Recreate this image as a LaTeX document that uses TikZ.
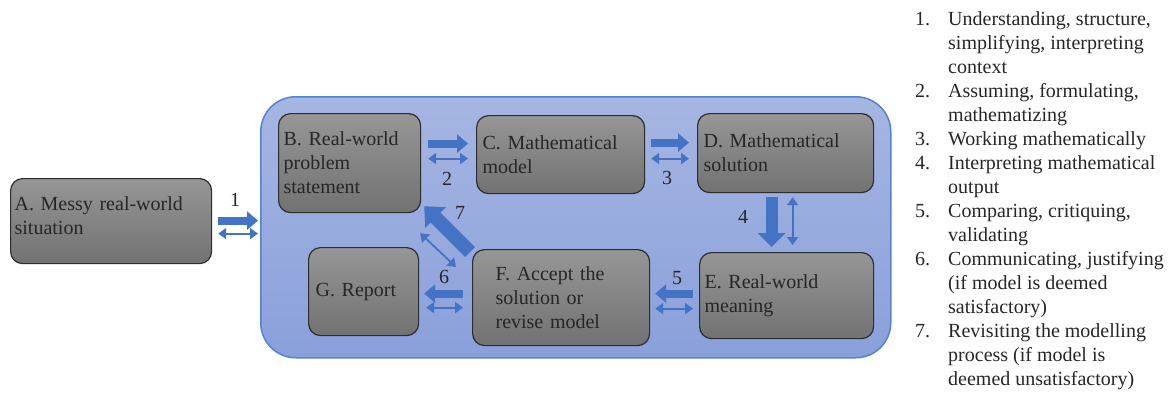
\documentclass[tikz,border=0pt]{standalone}
\usepackage{fontspec}
\setmainfont{Liberation Serif}
\usetikzlibrary{arrows.meta,calc}
\definecolor{arrowblue}{RGB}{68,114,196}
\definecolor{conttop}{RGB}{166,182,226}
\definecolor{contbot}{RGB}{138,160,219}
\definecolor{contline}{RGB}{84,130,214}
\definecolor{boxtop}{RGB}{150,150,150}
\definecolor{boxbot}{RGB}{114,114,114}
\definecolor{boxline}{RGB}{45,45,45}
\begin{document}
\begin{tikzpicture}[x=1pt,y=-1pt,
  txt/.style={font=\fontsize{20}{24}\selectfont},
  stagebox/.style={txt, draw=boxline, line width=1.2pt, rounded corners=12pt,
    top color=boxtop, bottom color=boxbot, align=left, anchor=north west,
    inner ysep=0pt, text=black!85},
  container/.style={draw=contline, line width=1.5pt, rounded corners=35pt,
    top color=conttop, bottom color=contbot, anchor=north west, inner sep=0pt},
  bigarrow/.style={draw=arrowblue, line width=8pt,
    -{Triangle[length=11pt,width=18pt]}},
  thinarrow/.style={draw=arrowblue, line width=1.8pt,
    {Triangle[length=8pt,width=11pt]}-{Triangle[length=8pt,width=11pt]}},
  numlabel/.style={txt, inner sep=0pt, text=black!85}
]
\useasboundingbox (0,0) rectangle (1172,392);

% container
\node[container, minimum width=630pt, minimum height=261pt] (M) at (260,96) {};

% stages
\node[stagebox, minimum width=201pt, minimum height=85pt, inner xsep=4pt, text width=193pt, text depth=36pt] (A) at (10,178) {A. Messy real-world\\situation};
\node[stagebox, minimum width=142pt, minimum height=99pt, inner xsep=5pt, text width=132pt] (B) at (278,113) {B. Real-world\\problem\\statement};
\node[stagebox, minimum width=168pt, minimum height=78pt, inner xsep=6pt, text width=156pt] (C) at (476,115) {C. Mathematical\\model};
\node[stagebox, minimum width=176pt, minimum height=79pt, inner xsep=6pt, text width=164pt] (D) at (697,113) {D. Mathematical\\solution};
\node[stagebox, minimum width=174pt, minimum height=86pt, inner xsep=5pt, text width=164pt] (E) at (699,252) {E. Real-world\\meaning};
\node[stagebox, minimum width=177pt, minimum height=96pt, inner xsep=23pt, text width=131pt] (F) at (472,249) {F. Accept the\\solution or\\revise model};
\node[stagebox, minimum width=110pt, minimum height=88pt, inner xsep=7pt, text width=96pt] (G) at (308,247) {G. Report};

% 1
\draw[bigarrow] ($(A.east)+(6,-0.5)$) -- ($(A.east -| M.west)+(-2,-0.5)$);
\draw[thinarrow] ($(A.east)+(6,12.5)$) -- ($(A.east -| M.west)+(-2,12.5)$);
\node[numlabel] (n1) at (235,200) {1};
% 2
\draw[bigarrow] ($(B.east)+(7,-19.5)$) -- ($(B.east -| C.west)+(-8,-19.5)$);
\draw[thinarrow] ($(B.east)+(7,-4.5)$) -- ($(B.east -| C.west)+(-8,-4.5)$);
\node[numlabel] (n2) at (447,179) {2};
% 3
\draw[bigarrow] ($(C.east)+(6,-12)$) -- ($(C.east -| D.west)+(-8,-12)$);
\draw[thinarrow] ($(C.east)+(6,4)$) -- ($(C.east -| D.west)+(-8,4)$);
\node[numlabel] (n3) at (667,178) {3};
% 4
\draw[draw=arrowblue, line width=12pt, -{Triangle[length=14pt,width=27pt]}] ($(D.south)+(-14,4)$) -- ($(D.south |- E.north)+(-14,-5)$);
\draw[thinarrow] ($(D.south)+(7,4)$) -- ($(D.south |- E.north)+(7,-7)$);
\node[numlabel] (n4) at (743,217) {4};
% 5
\draw[bigarrow] ($(E.west)+(-6,-2)$) -- ($(E.west -| F.east)+(5,-2)$);
\draw[thinarrow] ($(E.west)+(-6,13)$) -- ($(E.west -| F.east)+(5,13)$);
\node[numlabel] (n5) at (677,278) {5};
% 6
\draw[bigarrow] ($(F.west)+(-9,-4)$) -- ($(F.west -| G.east)+(5,-4)$);
\draw[thinarrow] ($(F.west)+(-9,10)$) -- ($(F.west -| G.east)+(7,10)$);
\node[numlabel] (n6) at (444,277) {6};
% 7
\draw[draw=arrowblue, line width=14pt, -{Triangle[length=16pt,width=28pt]}] ($(F.north west)+(-2,3)$) -- ($(B.south east)+(3,-7)$);
\draw[thinarrow] ($(F.north west)+(-16,18)$) -- ($(B.south east)+(-1,20)$);
\node[numlabel] (n7) at (460,213) {7};

% legend
\node[txt, anchor=north west, inner sep=0pt, text=black!85] (L) at (915,8) {%
\begin{tabular}{@{}p{33pt}@{}l@{}}
1. & Understanding, structure,\\
   & simplifying, interpreting\\
   & context\\
2. & Assuming, formulating,\\
   & mathematizing\\
3. & Working mathematically\\
4. & Interpreting mathematical\\
   & output\\
5. & Comparing, critiquing,\\
   & validating\\
6. & Communicating, justifying\\
   & (if model is deemed\\
   & satisfactory)\\
7. & Revisiting the modelling\\
   & process (if model is\\
   & deemed unsatisfactory)
\end{tabular}};
\end{tikzpicture}
\end{document}
